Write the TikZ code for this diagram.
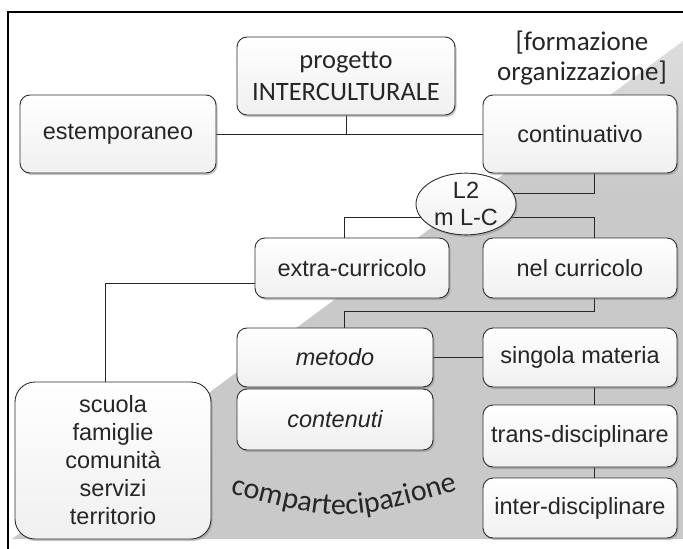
\documentclass[tikz,border=0pt]{standalone}
\usepackage{fontspec}
\setmainfont{Liberation Sans}
\newfontfamily\arialf{Liberation Sans}
\newfontfamily\calf[Ligatures={NoCommon}]{Carlito}
\usetikzlibrary{shapes.geometric,shadows,decorations.text}
\definecolor{gry}{gray}{0.79}
\definecolor{edge}{gray}{0.18}
\pgfdeclareverticalshading{grayfade}{100bp}{color(0bp)=(gry); color(60bp)=(gry); color(100bp)=(white)}
\pgfdeclarelayer{bglayer}
\pgfdeclarelayer{connlayer}
\pgfsetlayers{bglayer,connlayer,main}
\newcommand\boxfont{\arialf\fontsize{23.5}{27}\selectfont}
\newcommand\calfont{\calf\fontsize{26.5}{32}\selectfont}
\newcommand\compfont{\calf\fontsize{30}{34}\selectfont}
\tikzset{
  box/.style={draw=edge, line width=0.9pt, rounded corners=10pt, top color=white, bottom color=black!6,
    drop shadow={opacity=0.45, shadow xshift=1.5pt, shadow yshift=-2pt},
    inner sep=0pt, align=center, font=\boxfont, text=black!85},
  conn/.style={draw=black!85, line width=1pt},
  frameline/.style={draw=black, line width=1.2pt}
}
\begin{document}
\begin{tikzpicture}[x=1pt,y=-1pt]
\useasboundingbox (0,0) rectangle (683,549);
% background
\begin{pgfonlayer}{bglayer}
\fill[white] (0,0) rectangle (683,549);
\shade[shading=grayfade] (12,539) -- (683,41) -- (683,539) -- cycle;
\draw[frameline] (8,549) -- (8,12) -- (683,12);
\end{pgfonlayer}

% nodes
\node[box, minimum width=218pt, minimum height=78pt, font=\calfont] (prog) at (346,76) {progetto\\INTERCULTURALE};
\node[box, minimum width=196pt, minimum height=78pt] (est) at (118,134) {estemporaneo};
\node[box, minimum width=194pt, minimum height=78pt] (cont) at (580,134) {continuativo};
\node[font=\calf\fontsize{27}{30}\selectfont, align=center, text=black!85] (form) at (582,58) {[formazione\\organizzazione]};
\node[ellipse, draw=edge, line width=0.9pt, top color=white, bottom color=black!6,
  drop shadow={opacity=0.45, shadow xshift=1.5pt, shadow yshift=-2pt},
  minimum width=100pt, minimum height=56pt, inner sep=0pt, align=center, font=\boxfont, text=black!85] (ell) at (466,204) {L2\\m L-C};
\node[box, minimum width=194pt, minimum height=60pt] (extra) at (352,268) {extra-curricolo};
\node[box, minimum width=194pt, minimum height=60pt] (nel) at (580,268) {nel curricolo};
\node[box, minimum width=196pt, minimum height=59pt, font=\boxfont\itshape] (metodo) at (335,357.5) {metodo};
\node[box, minimum width=196pt, minimum height=61pt, font=\boxfont\itshape] (cont2) at (335,419.5) {contenuti};
\node[box, minimum width=194pt, minimum height=59pt] (sing) at (580,357.5) {singola materia};
\node[box, minimum width=194pt, minimum height=62pt] (trans) at (580,436) {trans-disciplinare};
\node[box, minimum width=194pt, minimum height=60pt] (inter) at (580,508) {inter-disciplinare};
\node[box, rounded corners=20pt, minimum width=196pt, minimum height=157pt, font=\arialf\fontsize{23.5}{28}\selectfont] (scuola) at (113,460.5) {scuola\\famiglie\\comunità\\servizi\\territorio};

% curved label
\path[decorate, decoration={text along path, text align=center, text={|\compfont\color{black!85}|compartecipazione}}]
  (222,491) .. controls (344,523) .. (466,488);

% connectors
\coordinate (c1) at (594,193);
\coordinate (eL) at (344,217);
\coordinate (eR) at (594,217);
\coordinate (xs) at (105,283);
\coordinate (n1) at (594,311);
\coordinate (n2) at (344,311);
\begin{pgfonlayer}{connlayer}
\draw[conn] (est.center) -- (cont.center);
\draw[conn] (prog.center) -- (prog.center |- est.center);
\draw[conn] (c1 |- cont.center) -- (c1) -- (c1 -| ell.center);
\draw[conn] (ell.center |- eL) -- (eL) -- (eL |- extra.center);
\draw[conn] (ell.center |- eR) -- (eR) -- (eR |- nel.center);
\draw[conn] (extra.center |- xs) -- (xs) -- (xs |- scuola.center);
\draw[conn] (n1 |- nel.center) -- (n1) -- (n2) -- (n2 |- metodo.center);
\draw[conn] (metodo.center) -- (sing.center);
\draw[conn] (n1 |- sing.center) -- (n1 |- inter.center);
\end{pgfonlayer}
\end{tikzpicture}
\end{document}
